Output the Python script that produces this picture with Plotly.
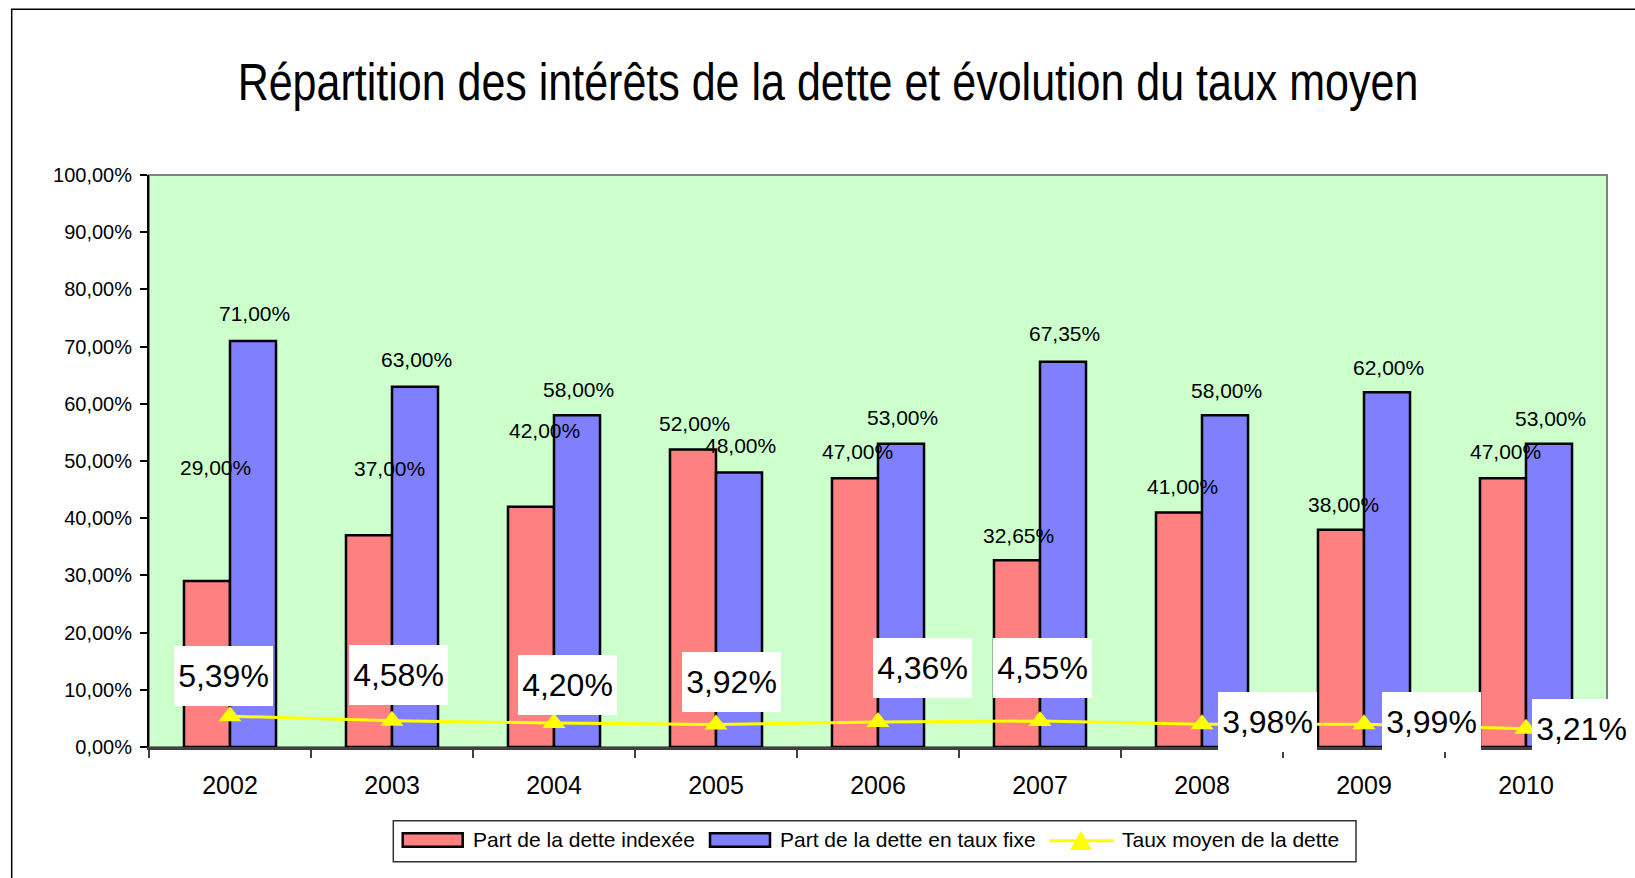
import plotly.graph_objects as go

# ---------------- data ----------------
years = ["2002", "2003", "2004", "2005", "2006", "2007", "2008", "2009", "2010"]
part_indexee = [0.29, 0.37, 0.42, 0.52, 0.47, 0.3265, 0.41, 0.38, 0.47]
part_fixe = [0.71, 0.63, 0.58, 0.48, 0.53, 0.6735, 0.58, 0.62, 0.53]
taux_moyen = [0.0539, 0.0458, 0.0420, 0.0392, 0.0436, 0.0455, 0.0398, 0.0399, 0.0321]
y_ticks = [0.0, 0.1, 0.2, 0.3, 0.4, 0.5, 0.6, 0.7, 0.8, 0.9, 1.0]

series_names = ["Part de la dette indexée", "Part de la dette en taux fixe", "Taux moyen de la dette"]
title_text = "Répartition des intérêts de la dette et évolution du taux moyen"

# ---------------- label placement (pixel offsets, style only) ----------------
red_label_dx = [8, 20, 13, 1, 2, 1, 3, 2, 2]
red_label_dy = [114, 67, 76, 26, 27, 25, 26, 25, 27]
blue_label_dx = [1.5] * 9
blue_label_dy = [27, 27, 26, 27, 26, 28, 25, 25, 25]
rate_label_dx = [-7, 6, 13, 15, 44, 2, 65, 67, 55]
rate_label_dy = [40, 46, 38, 43, 54, 53, 2.5, 2.5, 0]

BAR_HALF = 23  # pixel offset of each bar centre from its category centre

RED = "#FF8080"
BLUE = "#8080FF"
YELLOW = "#FFFF00"
GREEN_BG = "#CCFFCC"
FONT = "Liberation Sans, Arial, sans-serif"


def pct(v):
    return f"{v * 100:.2f}%".replace(".", ",")


W, H = 1635, 878
L, R, T, B = 149, 28, 175, 131
PW, PH = W - L - R, H - T - B


def px_x(px):
    return (px - L) / PW


def px_y(py):
    return (H - B - py) / PH


fig = go.Figure()
fig.add_trace(go.Bar(
    x=years, y=part_indexee, name=series_names[0], showlegend=False,
    marker=dict(color=RED, line=dict(color="black", width=2.5)),
))
fig.add_trace(go.Bar(
    x=years, y=part_fixe, name=series_names[1], showlegend=False,
    marker=dict(color=BLUE, line=dict(color="black", width=2.5)),
))
fig.add_trace(go.Scatter(
    x=years, y=taux_moyen, name=series_names[2], mode="lines+markers", showlegend=False,
    line=dict(color=YELLOW, width=3),
    marker=dict(symbol="triangle-up", size=20, color=YELLOW),
))

# annotations use the category index (numeric-looking names would be read as indices)
annotations = []
for i, yr in enumerate(years):
    annotations.append(dict(
        x=i, y=part_indexee[i], xref="x", yref="y", text=pct(part_indexee[i]),
        showarrow=False, xanchor="center", yanchor="middle",
        xshift=-BAR_HALF + red_label_dx[i], yshift=red_label_dy[i],
        font=dict(family=FONT, size=21, color="black"),
    ))
    annotations.append(dict(
        x=i, y=part_fixe[i], xref="x", yref="y", text=pct(part_fixe[i]),
        showarrow=False, xanchor="center", yanchor="middle",
        xshift=BAR_HALF + blue_label_dx[i], yshift=blue_label_dy[i],
        font=dict(family=FONT, size=21, color="black"),
    ))
    annotations.append(dict(
        x=i, y=taux_moyen[i], xref="x", yref="y", text=pct(taux_moyen[i]),
        showarrow=False, xanchor="center", yanchor="middle",
        xshift=rate_label_dx[i], yshift=rate_label_dy[i],
        bgcolor="white", borderpad=0, borderwidth=0, width=99, height=60,
        font=dict(family=FONT, size=32, color="black"),
    ))

# ---------------- legend (drawn like the Excel legend: wide swatches) ----------------
LEG_Y = 839.5
legend_text_x = [470.7, 778, 1120]
for name, tx in zip(series_names, legend_text_x):
    annotations.append(dict(
        x=px_x(tx), y=px_y(LEG_Y), xref="paper", yref="paper", text=name,
        showarrow=False, xanchor="left", yanchor="middle",
        font=dict(family=FONT, size=21, color="black"),
    ))

shapes = [
    # plot-area border (grey top/right)
    dict(type="rect", xref="paper", yref="paper", x0=0, y0=0, x1=1, y1=1,
         line=dict(color="#808080", width=2), fillcolor="rgba(0,0,0,0)", layer="below"),
    # outer chart frame
    dict(type="rect", xref="paper", yref="paper",
         x0=px_x(11.7), y0=px_y(890), x1=px_x(1645), y1=px_y(9.3),
         line=dict(color="black", width=1.5), fillcolor="rgba(0,0,0,0)"),
    # legend box
    dict(type="rect", xref="paper", yref="paper",
         x0=px_x(393.3), y0=px_y(861.7), x1=px_x(1356), y1=px_y(820.7),
         line=dict(color="#333333", width=1.5), fillcolor="white"),
    # legend swatches
    dict(type="rect", xref="paper", yref="paper",
         x0=px_x(402.7), y0=px_y(846.7), x1=px_x(462.7), y1=px_y(833.3),
         line=dict(color="black", width=2.5), fillcolor=RED),
    dict(type="rect", xref="paper", yref="paper",
         x0=px_x(710), y0=px_y(846.7), x1=px_x(770), y1=px_y(833.3),
         line=dict(color="black", width=2.5), fillcolor=BLUE),
    dict(type="line", xref="paper", yref="paper",
         x0=px_x(1050), y0=px_y(840.7), x1=px_x(1114), y1=px_y(840.7),
         line=dict(color=YELLOW, width=3)),
    dict(type="path", xref="paper", yref="paper",
         path=(f"M{px_x(1071)},{px_y(849.5)} L{px_x(1091)},{px_y(849.5)} "
               f"L{px_x(1081)},{px_y(831.5)} Z"),
         line=dict(color=YELLOW, width=1), fillcolor=YELLOW),
]

boundaries = [i - 0.5 for i in range(len(years) + 1)]

fig.update_layout(
    width=W, height=H,
    margin=dict(l=L, r=R, t=T, b=B, autoexpand=False),
    paper_bgcolor="white",
    plot_bgcolor=GREEN_BG,
    barmode="group", bargap=0.432, bargroupgap=0,
    showlegend=False,
    font=dict(family=FONT, color="black"),
    title=dict(
        text=title_text, xref="container", yref="container",
        x=828 / W, y=1 - 81.5 / H, xanchor="center", yanchor="middle",
        font=dict(family=FONT, size=52, color="black"),
    ),
    xaxis=dict(
        type="category", categoryorder="array", categoryarray=years,
        range=[-0.5, len(years) - 0.5],
        showgrid=False, zeroline=False,
        showline=True, linecolor="#404040", linewidth=2.5,
        ticks="outside", ticklen=8, tickcolor="#404040", tickwidth=1.5,
        tickson="boundaries", tickangle=0, ticklabelstandoff=14,
        tickfont=dict(family=FONT, size=25, color="black"),
    ),
    # helper axes: inner half of the crossing tick marks
    xaxis2=dict(
        overlaying="x", anchor="y", type="linear", range=[-0.5, len(years) - 0.5],
        tickmode="array", tickvals=boundaries, showticklabels=False,
        ticks="inside", ticklen=8, tickcolor="#404040", tickwidth=1.5,
        showgrid=False, zeroline=False, showline=False,
    ),
    yaxis=dict(
        range=[0, 1], tickmode="array", tickvals=y_ticks,
        ticktext=[pct(v) for v in y_ticks],
        showgrid=False, zeroline=False,
        showline=True, linecolor="black", linewidth=2,
        ticks="outside", ticklen=7, tickcolor="black", tickwidth=1.5,
        ticklabelstandoff=4,
        tickfont=dict(family=FONT, size=20, color="black"),
    ),
    yaxis2=dict(
        overlaying="y", anchor="x", range=[0, 1],
        tickmode="array", tickvals=y_ticks, showticklabels=False,
        ticks="inside", ticklen=7, tickcolor="black", tickwidth=1.5,
        showgrid=False, zeroline=False, showline=False,
    ),
    annotations=annotations,
    shapes=shapes,
)

# page without body margin; title condensed horizontally like Arial Narrow
post = (
    "document.body.style.margin='0';document.body.style.overflow='hidden';"
    "var t=document.querySelector('.gtitle');"
    "if(t){t.style.transformBox='fill-box';t.style.transformOrigin='center';"
    "t.style.transform='scaleX(0.827)';}"
)
fig.write_html("out.html", config={"displayModeBar": False}, post_script=post)
